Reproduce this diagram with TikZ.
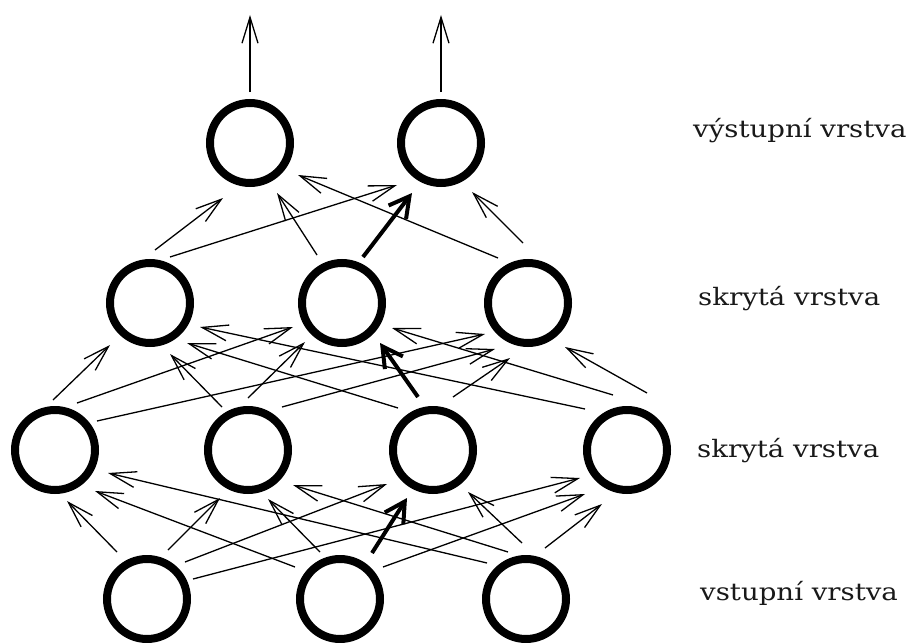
\documentclass[tikz,border=0pt]{standalone}
\usepackage{fontspec}
\newfontfamily\layerfont{DejaVu Serif}[FakeStretch=1.15]
\usetikzlibrary{arrows.meta,calc}

% one connector between two neurons, each end given as an offset from the neuron centre
\newcommand\synapse[5][]{\draw[wire,#1] ($(#2)+(#3)$) -- ($(#4)+(#5)$);}

\begin{document}
\begin{tikzpicture}[x=1pt,y=-1pt,
  neuron/.style={circle,draw=black,line width=8pt,minimum size=80pt,inner sep=0pt},
  wire/.style={line width=1.3pt,-{Straight Barb[length=26pt,width=16pt]}},
  strong/.style={line width=4pt,-{Straight Barb[length=20pt,width=22pt]}},
  layername/.style={anchor=base west,inner sep=0pt,font=\layerfont\fontsize{24pt}{28pt}\selectfont,text=black!90}]

\fill[white] (0,0) rectangle (912,642);
\useasboundingbox (0,0) rectangle (912,642);

% neurons
\node[neuron] (O1) at (250,143) {};
\node[neuron] (O2) at (441,143) {};
\node[neuron] (P) at (150,303) {};
\node[neuron] (Q) at (342,303) {};
\node[neuron] (R) at (528,303) {};
\node[neuron] (A) at (55,450) {};
\node[neuron] (B) at (248,450) {};
\node[neuron] (C) at (433,450) {};
\node[neuron] (D) at (627,450) {};
\node[neuron] (X) at (147,599) {};
\node[neuron] (Y) at (340,599) {};
\node[neuron] (Z) at (526,599) {};

% layer names
\node[layername] (Lout) at (693,137) {výstupní vrstva};
\node[layername] (Lh2) at (698,305) {skrytá vrstva};
\node[layername] (Lh1) at (697,457) {skrytá vrstva};
\node[layername] (Lin) at (700,600) {vstupní vrstva};

% outputs
\coordinate (out1) at ($(O1)+(0,-128)$);
\coordinate (out2) at ($(O2)+(0,-128)$);
\draw[wire] ($(O1)+(0,-51)$) -- (out1);
\draw[wire] ($(O2)+(0,-51)$) -- (out2);

% second hidden layer -> output layer
\synapse{P}{5,-53}{O1}{-27,55}
\synapse{P}{20,-46}{O2}{-44,42}
\synapse{Q}{-25,-48}{O1}{27,50}
\synapse[strong]{Q}{21,-46}{O2}{-29,50}
\synapse{R}{-30,-45}{O1}{48,32}
\synapse{R}{-5,-60}{O2}{31,49}

% first hidden layer -> second hidden layer
\synapse{A}{-2,-50}{P}{-40,42}
\synapse{A}{22,-47}{Q}{-49,24}
\synapse{A}{42,-29}{R}{-43,31}
\synapse{B}{-26,-43}{P}{20,51}
\synapse{B}{0,-52}{Q}{-37,39}
\synapse{B}{34,-43}{R}{-33,46}
\synapse{C}{-35,-42}{P}{37,40}
\synapse[strong]{C}{-15,-53}{Q}{38,40}
\synapse{C}{20,-53}{R}{-18,55}
\synapse{D}{-42,-41}{P}{50,24}
\synapse{D}{-14,-55}{Q}{50,25}
\synapse{D}{20,-57}{R}{37,44}

% input layer -> first hidden layer
\synapse{X}{-30,-47}{A}{12,51}
\synapse{X}{21,-49}{B}{-28,48}
\synapse{X}{38,-37}{C}{-46,34}
\synapse{X}{46,-20}{D}{-47,28}
\synapse{Y}{-45,-32}{A}{40,41}
\synapse{Y}{-20,-47}{B}{20,49}
\synapse[strong]{Y}{32,-46}{C}{-26,48}
\synapse{Y}{43,-32}{D}{-42,44}
\synapse{Z}{-39,-36}{A}{53,23}
\synapse{Z}{-18,-47}{B}{45,35}
\synapse{Z}{-4,-56}{C}{35,42}
\synapse{Z}{19,-51}{D}{-25,54}

\end{tikzpicture}
\end{document}
